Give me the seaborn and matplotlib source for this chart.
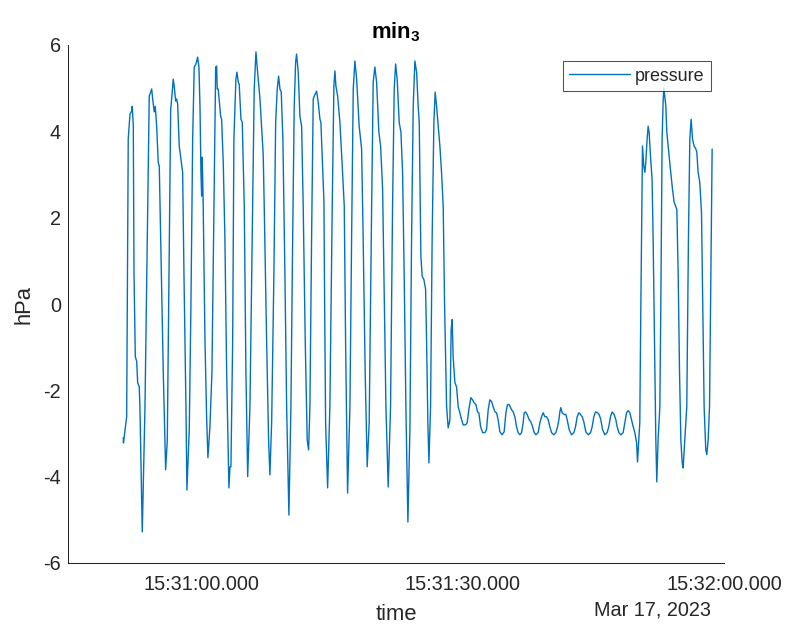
import numpy as np
import pandas as pd
import matplotlib
matplotlib.use("Agg")
import matplotlib.pyplot as plt
import matplotlib.dates as mdates
from matplotlib.ticker import FuncFormatter
import seaborn as sns

# Pressure record, seconds relative to 15:31:00 on 2023-03-17
t_offset_s = [
    -8.91, -8.89, -8.52, -8.34, -8.14, -7.95, -7.88, -7.76, -7.68, -7.53,
    -7.37, -7.26, -7.08, -7.00, -6.73, -6.42, -6.16, -5.93, -5.85, -5.65,
    -5.54, -5.36, -5.24, -5.08, -4.90, -4.78, -4.62, -4.32, -4.05, -3.86,
    -3.63, -3.47, -3.36, -3.18, -3.06, -2.90, -2.79, -2.67, -2.49, -2.29,
    -2.10, -1.95, -1.72, -1.61, -1.34, -1.15, -0.95, -0.77, -0.57, -0.38,
    -0.23, -0.11, 0.00, 0.08, 0.15, 0.26, 0.46, 0.65, 0.80, 1.03,
    1.26, 1.49, 1.69, 1.80, 1.87, 1.98, 2.26, 2.37, 2.56, 2.75,
    2.95, 3.21, 3.33, 3.44, 3.64, 3.78, 4.01, 4.13, 4.28, 4.39,
    4.59, 4.74, 4.97, 5.16, 5.36, 5.62, 5.93, 6.11, 6.31, 6.50,
    6.77, 7.03, 7.14, 7.26, 7.53, 7.76, 7.91, 8.11, 8.37, 8.57,
    8.75, 8.91, 9.06, 9.21, 9.40, 9.63, 9.83, 10.09, 10.32, 10.52,
    10.70, 10.86, 10.97, 11.16, 11.35, 11.55, 11.73, 11.96, 12.19, 12.35,
    12.50, 12.69, 12.88, 13.00, 13.27, 13.45, 13.65, 13.76, 13.96, 14.11,
    14.19, 14.30, 14.53, 14.79, 15.06, 15.25, 15.37, 15.48, 15.68, 15.94,
    16.21, 16.44, 16.59, 16.82, 17.09, 17.28, 17.47, 17.66, 17.86, 18.15,
    18.43, 18.61, 18.84, 19.07, 19.30, 19.58, 19.76, 19.95, 20.15, 20.41,
    20.61, 20.84, 20.99, 21.22, 21.48, 21.75, 21.98, 22.17, 22.33, 22.51,
    22.74, 22.94, 23.13, 23.31, 23.51, 23.74, 23.97, 24.16, 24.35, 24.54,
    24.74, 24.92, 25.04, 25.11, 25.23, 25.38, 25.57, 25.77, 25.88, 26.03,
    26.15, 26.34, 26.52, 26.72, 26.87, 27.03, 27.22, 27.41, 27.60, 27.79,
    27.95, 28.18, 28.36, 28.56, 28.70, 28.82, 28.93, 29.13, 29.32, 29.51,
    29.70, 29.90, 30.08, 30.36, 30.54, 30.73, 30.96, 31.16, 31.34, 31.54,
    31.73, 31.88, 32.08, 32.31, 32.57, 32.76, 32.95, 33.14, 33.34, 33.52,
    33.72, 33.91, 34.09, 34.29, 34.55, 34.78, 34.98, 35.17, 35.36, 35.63,
    35.82, 36.01, 36.20, 36.39, 36.58, 36.78, 36.96, 37.08, 37.24, 37.42,
    37.65, 37.84, 38.04, 38.19, 38.42, 38.68, 38.88, 39.07, 39.26, 39.45,
    39.64, 39.83, 40.02, 40.22, 40.48, 40.71, 40.91, 41.06, 41.17, 41.28,
    41.43, 41.66, 41.86, 42.01, 42.24, 42.51, 42.78, 42.97, 43.16, 43.35,
    43.55, 43.73, 43.92, 44.15, 44.42, 44.69, 44.88, 45.07, 45.26, 45.49,
    45.68, 45.87, 46.07, 46.33, 46.59, 46.79, 46.98, 47.17, 47.40, 47.59,
    47.74, 47.94, 48.17, 48.43, 48.62, 48.82, 49.00, 49.20, 49.39, 49.58,
    49.77, 49.97, 50.08, 50.23, 50.34, 50.46, 50.65, 50.80, 50.92, 51.03,
    51.18, 51.30, 51.41, 51.57, 51.75, 51.87, 52.03, 52.18, 52.29, 52.44,
    52.64, 52.75, 52.90, 53.02, 53.10, 53.33, 53.44, 53.59, 53.82, 54.09,
    54.28, 54.47, 54.59, 54.74, 54.90, 55.05, 55.20, 55.31, 55.50, 55.73,
    55.92, 56.08, 56.23, 56.39, 56.57, 56.77, 56.88, 57.03, 57.22, 57.42,
    57.57, 57.72, 57.91, 58.03, 58.18, 58.34, 58.49, 58.64,
]

pressure_hpa = [
    -3.10, -3.22, -2.61, 3.82, 4.40, 4.47, 4.58, 4.12, 0.73, -1.22,
    -1.33, -1.82, -1.92, -2.38, -5.28, -2.38, 1.50, 4.82, 4.86, 4.98,
    4.75, 4.45, 4.58, 4.12, 3.28, 3.19, 1.50, -1.59, -3.84, -3.15,
    1.50, 4.52, 4.75, 5.21, 5.03, 4.70, 4.75, 4.63, 3.66, 3.35,
    3.05, 0.73, -2.38, -4.31, -2.91, -0.06, 3.82, 5.49, 5.56, 5.72,
    5.49, 4.58, 3.05, 2.50, 3.40, 2.27, -0.82, -2.61, -3.56, -2.84,
    -1.59, 2.26, 5.49, 5.51, 4.98, 4.98, 4.35, 4.28, 3.28, 1.50,
    -1.59, -4.26, -3.77, -3.77, -0.82, 3.82, 5.21, 5.37, 5.14, 5.09,
    4.28, 4.21, 2.26, -1.59, -4.00, -2.38, 2.26, 4.98, 5.84, 5.37,
    4.75, 3.82, 3.47, 2.26, -0.82, -3.15, -3.96, -2.75, 0.73, 4.21,
    4.98, 5.28, 4.98, 4.91, 3.82, 0.73, -2.38, -4.89, -2.38, 1.50,
    4.58, 5.60, 5.79, 5.37, 4.35, 4.12, 2.26, -0.82, -3.15, -3.38,
    -2.38, 1.50, 4.75, 4.82, 4.93, 4.68, 4.28, 4.21, 3.19, 2.36,
    -0.06, -2.75, -4.26, -2.38, 2.26, 5.05, 5.40, 5.05, 4.82, 4.21,
    3.19, 2.26, -0.82, -4.38, -2.38, 1.50, 4.98, 5.63, 5.21, 4.12,
    3.59, 1.50, -1.59, -3.77, -2.75, 2.26, 5.14, 5.49, 5.14, 3.98,
    3.66, 2.66, 0.73, -2.38, -4.24, -2.38, 2.26, 4.98, 5.56, 5.21,
    4.21, 3.98, 3.05, 0.73, -2.38, -5.05, -2.91, 1.50, 4.58, 5.63,
    5.37, 4.58, 4.21, 3.05, 1.10, 0.64, 0.57, 0.34, -0.82, -2.75,
    -3.68, -2.38, 1.50, 4.21, 4.91, 4.58, 4.12, 3.66, 3.05, 2.26,
    -0.06, -2.38, -2.87, -2.68, -0.59, -0.36, -1.22, -1.82, -1.92, -2.38,
    -2.52, -2.68, -2.80, -2.80, -2.75, -2.45, -2.17, -2.22, -2.29, -2.33,
    -2.50, -2.52, -2.84, -2.98, -2.98, -2.91, -2.45, -2.22, -2.26, -2.38,
    -2.50, -2.52, -2.68, -2.96, -3.03, -2.96, -2.52, -2.33, -2.33, -2.45,
    -2.50, -2.61, -2.84, -2.98, -3.03, -2.98, -2.75, -2.52, -2.50, -2.56,
    -2.68, -2.73, -2.84, -2.96, -3.03, -2.98, -2.75, -2.61, -2.52, -2.61,
    -2.61, -2.68, -2.84, -2.98, -3.03, -2.98, -2.84, -2.68, -2.50, -2.40,
    -2.52, -2.56, -2.56, -2.68, -2.91, -3.03, -2.98, -2.84, -2.61, -2.52,
    -2.56, -2.61, -2.73, -2.96, -3.03, -2.98, -2.84, -2.61, -2.50, -2.52,
    -2.56, -2.68, -2.91, -3.03, -2.98, -2.84, -2.61, -2.50, -2.56, -2.68,
    -2.84, -2.98, -3.03, -2.98, -2.75, -2.52, -2.47, -2.52, -2.68, -2.84,
    -2.98, -3.21, -3.66, -3.15, -2.75, -0.06, 3.66, 3.19, 3.05, 3.28,
    3.82, 4.12, 3.98, 3.42, 2.89, 1.50, -0.82, -3.15, -4.12, -3.15,
    -2.38, -0.06, 3.82, 4.70, 5.00, 4.58, 3.98, 3.66, 3.19, 2.66,
    2.36, 2.26, 2.19, 0.73, -1.59, -3.15, -3.66, -3.80, -3.15, -2.38,
    1.50, 3.82, 4.28, 3.82, 3.66, 3.59, 3.52, 3.05, 2.82, 2.12,
    -0.06, -2.38, -3.38, -3.49, -3.15, -2.38, 0.73, 3.59,
]

y_ticks = [-6, -4, -2, 0, 2, 4, 6]
series_name = "pressure"
date_caption = "Mar 17, 2023"

base = pd.Timestamp("2023-03-17 15:31:00")
times = base + pd.to_timedelta(np.array(t_offset_s), unit="s")
df = pd.DataFrame({"time": times, "pressure": pressure_hpa})

sns.set_theme(style="white")
plt.rcParams["font.family"] = ["Liberation Sans", "DejaVu Sans"]
plt.rcParams["mathtext.fontset"] = "custom"
plt.rcParams["mathtext.rm"] = "Liberation Sans"
plt.rcParams["mathtext.bf"] = "Liberation Sans:bold"

axis_color = "#262626"
W, H = 786, 624
fig = plt.figure(figsize=(W / 100, H / 100), dpi=100)
ax = fig.add_axes([68 / W, 1 - 563 / H, (724 - 68) / W, (563 - 45) / H])

sns.lineplot(data=df, x="time", y="pressure", ax=ax, color="#0072BD",
             linewidth=1.0, label=series_name, estimator=None, sort=False)

ax.set_xlim(base - pd.Timedelta(seconds=15.25), base + pd.Timedelta(seconds=60))
ax.set_ylim(-6, 6)
ax.set_yticks(y_ticks)
ax.set_yticklabels([str(v) for v in y_ticks])

ax.xaxis.set_major_locator(mdates.SecondLocator(bysecond=[0, 30]))
ax.xaxis.set_major_formatter(
    FuncFormatter(lambda x, pos: mdates.num2date(x).strftime("%H:%M:%S") + ".000"))

for side in ("top", "right"):
    ax.spines[side].set_visible(False)
for side in ("left", "bottom"):
    ax.spines[side].set_color(axis_color)
    ax.spines[side].set_linewidth(0.75)

ax.tick_params(axis="both", direction="in", length=5.5, width=0.75,
               colors=axis_color, labelsize=14.3, labelcolor=axis_color)
ax.tick_params(axis="y", pad=5)
ax.tick_params(axis="x", pad=9)

ax.set_xlabel("time", fontsize=15.8, color=axis_color, labelpad=7)
ax.set_ylabel("hPa", fontsize=15.8, color=axis_color, labelpad=6)
ax.set_title(r"$\mathbf{min}_{\mathbf{3}}$", fontsize=15.8, color="black", pad=5)

fig.text(711 / W, 1 - 610 / H, date_caption, ha="right", va="center",
         fontsize=14.3, color=axis_color)

leg = ax.legend(loc="upper right", bbox_to_anchor=(711 / W, 1 - 61.5 / H),
                bbox_transform=fig.transFigure, borderaxespad=0, fontsize=12.9,
                frameon=True, fancybox=False, shadow=False, handlelength=3.4,
                handletextpad=0.3, borderpad=0.35)
leg.get_frame().set_edgecolor(axis_color)
leg.get_frame().set_linewidth(0.75)
for txt in leg.get_texts():
    txt.set_color(axis_color)

ax.grid(False)
fig.savefig("out.png", dpi=100, facecolor="white")
